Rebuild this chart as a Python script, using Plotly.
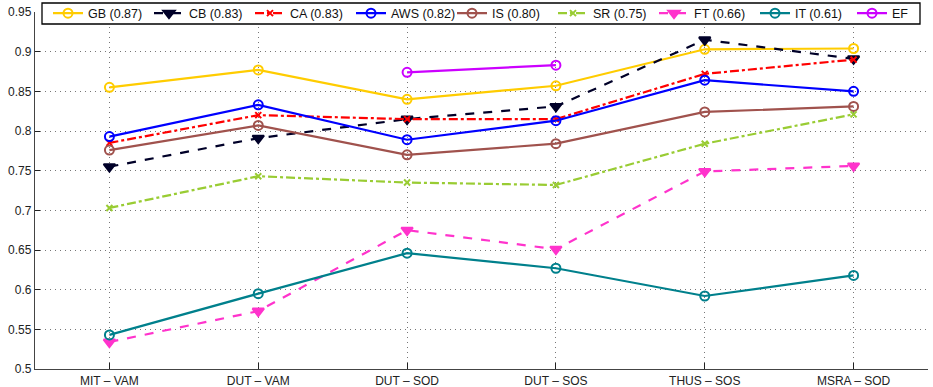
import plotly.graph_objects as go

categories = ["MIT – VAM", "DUT – VAM", "DUT – SOD", "DUT – SOS", "THUS – SOS", "MSRA – SOD"]
GB = [0.855, 0.877, 0.840, 0.857, 0.903, 0.904]
CB = [0.755, 0.791, 0.815, 0.831, 0.915, 0.891]
CA = [0.785, 0.820, 0.815, 0.815, 0.872, 0.890]
AWS = [0.793, 0.833, 0.789, 0.813, 0.864, 0.850]
IS = [0.776, 0.807, 0.770, 0.784, 0.824, 0.831]
SR = [0.703, 0.743, 0.735, 0.732, 0.784, 0.821]
FT = [0.534, 0.573, 0.675, 0.651, 0.749, 0.756]
IT = [0.543, 0.595, 0.646, 0.627, 0.592, 0.618]
EF = [None, None, 0.874, 0.883, None, None]
y_ticks = [0.5, 0.55, 0.6, 0.65, 0.7, 0.75, 0.8, 0.85, 0.9, 0.95]

xs = list(range(len(categories)))

series = [
    ("GB (0.87)", GB, "rgb(255,204,0)", "solid", "circle-open", "legend"),
    ("CB (0.83)", CB, "rgb(0,0,40)", "dash", "triangle-down", "legend"),
    ("CA (0.83)", CA, "rgb(255,0,0)", "dashdot", "x-thin-open", "legend"),
    ("AWS (0.82)", AWS, "rgb(0,0,255)", "solid", "circle-open", "legend"),
    ("IS (0.80)", IS, "rgb(160,82,77)", "solid", "circle-open", "legend"),
    ("SR (0.75)", SR, "rgb(153,204,51)", "dashdot", "x-thin-open", "legend"),
    ("FT (0.66)", FT, "rgb(255,51,204)", "dash", "triangle-down", "legend"),
    ("IT (0.61)", IT, "rgb(0,128,140)", "solid", "circle-open", "legend"),
    ("EF", EF, "rgb(204,0,255)", "solid", "circle-open", "legend2"),
]

fig = go.Figure()
for name, vals, color, dash, sym, leg in series:
    msize = 10 if "triangle" in sym else (6 if "x" in sym else 9)
    fig.add_trace(go.Scatter(
        x=xs, y=vals, name=name, mode="lines+markers", legend=leg,
        line=dict(color=color, width=2.2, dash=dash),
        marker=dict(symbol=sym, size=msize, color=color,
                    line=dict(color=color, width=2)),
        connectgaps=False,
    ))

# plot area geometry in px: left 35, width 893, top 12, height 357
L, W, T, H = 35, 893, 12, 357
def px_x(p):
    return (p - L) / W
def px_y(p):
    return (T + H - p) / H

legend_common = dict(
    orientation="h", yanchor="middle", xanchor="left",
    bgcolor="rgba(0,0,0,0)", borderwidth=0,
    font=dict(size=12.5, color="#111"), tracegroupgap=0, itemwidth=30,
)

fig.update_layout(
    width=933, height=387,
    margin=dict(l=L, r=933 - L - W, t=T, b=387 - T - H, autoexpand=False),
    paper_bgcolor="white", plot_bgcolor="white",
    font=dict(family="Liberation Sans, Arial, sans-serif", size=12, color="#222"),
    showlegend=True,
    legend=dict(x=px_x(48), y=px_y(13.5), entrywidth=56, **legend_common),
    legend2=dict(x=px_x(852), y=px_y(13.5), **legend_common),
    shapes=[dict(
        type="rect", xref="paper", yref="paper",
        x0=px_x(42), x1=px_x(920), y0=px_y(24), y1=px_y(3),
        fillcolor="white", line=dict(color="black", width=1.3), layer="above",
    )],
)
fig.update_xaxes(
    range=[-0.5, 5.5], tickmode="array", tickvals=xs, ticktext=categories,
    showgrid=True, gridcolor="#777", griddash="1px,4px", gridwidth=1,
    showline=True, linecolor="#444", linewidth=1.3,
    ticks="inside", ticklen=6, tickcolor="#222", zeroline=False,
    tickfont=dict(size=12),
)
fig.update_yaxes(
    range=[0.5, 0.95], tickmode="array", tickvals=y_ticks,
    ticktext=[f"{v:g}" for v in y_ticks],
    showgrid=True, gridcolor="#777", griddash="1px,4px", gridwidth=1,
    showline=True, linecolor="#444", linewidth=1.3,
    ticks="inside", ticklen=5, tickcolor="#222", zeroline=False,
    tickfont=dict(size=12),
)

fig.write_html("out.html")
